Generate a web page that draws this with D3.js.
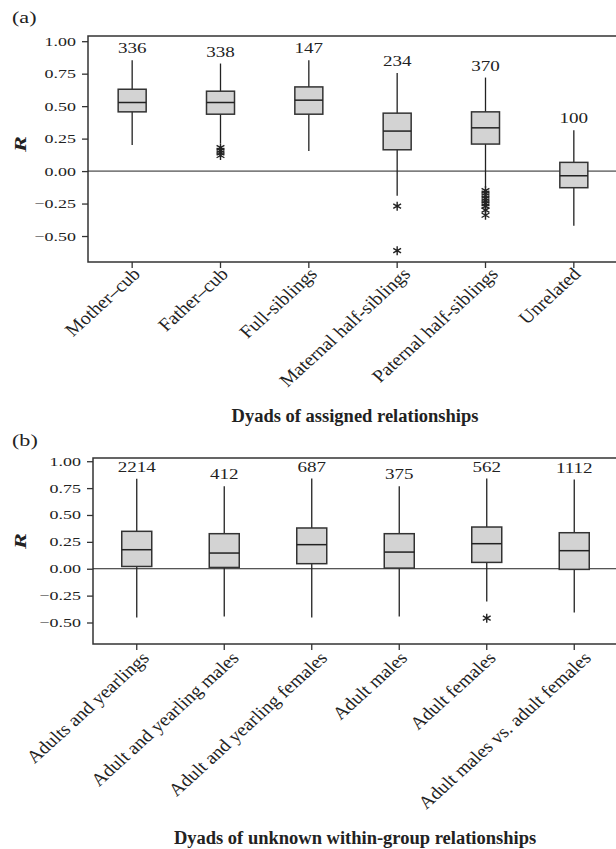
<!DOCTYPE html>
<html>
<head>
<meta charset="utf-8">
<script src="https://cdn.jsdelivr.net/npm/d3@7"></script>
<style>
  body { margin: 0; background: #fff; }
  svg text { font-family: "Liberation Serif", "DejaVu Serif", serif; fill: #222; }
</style>
</head>
<body>
<div id="chart"></div>
<script>
// panel (a) - assigned relationships
const catsA = ["Mother\u2013cub", "Father\u2013cub", "Full-siblings", "Maternal half-siblings", "Paternal half-siblings", "Unrelated"];
const countsA = [336, 338, 147, 234, 370, 100];
const lowA = [0.20, 0.215, 0.154, -0.19, -0.13, -0.42];
const q1A = [0.456, 0.438, 0.438, 0.164, 0.208, -0.128];
const medA = [0.528, 0.528, 0.546, 0.308, 0.333, -0.036];
const q3A = [0.63, 0.615, 0.648, 0.446, 0.456, 0.067];
const highA = [0.854, 0.828, 0.854, 0.756, 0.72, 0.315];
const outA = [[], [0.18, 0.16, 0.14, 0.12], [], [-0.27, -0.613],
  [-0.15, -0.17, -0.19, -0.21, -0.23, -0.25, -0.27, -0.30, -0.34], []];

// panel (b) - unknown within-group relationships
const catsB = ["Adults and yearlings", "Adult and yearling males", "Adult and yearling females", "Adult males", "Adult females", "Adult males vs. adult females"];
const countsB = [2214, 412, 687, 375, 562, 1112];
const lowB = [-0.454, -0.444, -0.454, -0.444, -0.305, -0.407];
const q1B = [0.021, 0.012, 0.047, 0.006, 0.059, -0.006];
const medB = [0.177, 0.146, 0.224, 0.155, 0.233, 0.168];
const q3B = [0.348, 0.326, 0.379, 0.326, 0.388, 0.335];
const highB = [0.836, 0.767, 0.839, 0.767, 0.839, 0.829];
const outB = [[], [], [], [], [-0.46], []];

const yTicks = [-0.5, -0.25, 0, 0.25, 0.5, 0.75, 1.0];

const svg = d3.select("#chart").append("svg")
    .attr("width", 616)
    .attr("height", 849);

const fmt = v => (v < 0 ? "\u2212" : "") + Math.abs(v).toFixed(2);

// text that is a bit wider than the font (like the original figure)
function wideText(g, x, y, str, size, sx, anchor) {
    return g.append("text")
        .attr("transform", `translate(${x},${y}) scale(${sx},1)`)
        .attr("text-anchor", anchor || "middle")
        .style("font-size", size + "px")
        .text(str);
}

function asterisk(g, x, y, r) {
    let d = "";
    [90, 30, 150].forEach(a => {
        const dx = r * Math.cos(a * Math.PI / 180), dy = r * Math.sin(a * Math.PI / 180);
        d += `M${x - dx},${y - dy}L${x + dx},${y + dy}`;
    });
    g.append("path").attr("d", d).attr("stroke", "#222").attr("stroke-width", 1.4);
}

function drawPanel(p) {
    const g = svg.append("g");
    const x = d3.scaleBand().domain(p.cats).range([p.left, p.right]);
    const y = d3.scaleLinear().domain([-0.70, p.ymax]).range([p.bottom, p.top]);
    const bw = p.boxW;

    // frame
    g.append("path")
        .attr("d", `M${p.right + 5},${p.top}H${p.left}V${p.bottom}H${p.right + 5}`)
        .attr("fill", "none").attr("stroke", "#333").attr("stroke-width", 1.5);

    // y axis (ticks from d3, labels drawn by hand so they can be widened)
    const yAxis = g.append("g").attr("transform", `translate(${p.left},0)`)
        .call(d3.axisLeft(y).tickValues(yTicks).tickFormat("").tickSize(6));
    yAxis.select(".domain").remove();
    yAxis.selectAll("line").attr("stroke", "#333").attr("stroke-width", 1.3);
    yTicks.forEach(t => wideText(g, p.left - 12, y(t) + 4.5, fmt(t), 13.5, 1.33, "end"));

    // x axis
    const xAxis = g.append("g").attr("transform", `translate(0,${p.bottom})`)
        .call(d3.axisBottom(x).tickSize(6).tickFormat(""));
    xAxis.select(".domain").remove();
    xAxis.selectAll("line").attr("stroke", "#333").attr("stroke-width", 1.3);

    // zero line
    g.append("line")
        .attr("x1", p.left).attr("x2", p.right + 5)
        .attr("y1", y(0)).attr("y2", y(0))
        .attr("stroke", "#222").attr("stroke-width", 1);

    p.cats.forEach((c, i) => {
        const cx = x(c) + x.bandwidth() / 2;
        g.append("line").attr("x1", cx).attr("x2", cx)
            .attr("y1", y(p.low[i])).attr("y2", y(p.high[i]))
            .attr("stroke", "#222").attr("stroke-width", 1.3);
        g.append("rect")
            .attr("x", cx - bw / 2).attr("width", bw)
            .attr("y", y(p.q3[i])).attr("height", y(p.q1[i]) - y(p.q3[i]))
            .attr("fill", "#d3d3d3").attr("stroke", "#333").attr("stroke-width", 1.5);
        g.append("line").attr("x1", cx - bw / 2).attr("x2", cx + bw / 2)
            .attr("y1", y(p.med[i])).attr("y2", y(p.med[i]))
            .attr("stroke", "#222").attr("stroke-width", 1.5);
        p.out[i].forEach(v => asterisk(g, cx, y(v), 4.5));
        wideText(g, cx, y(p.high[i]) - 7, p.counts[i], 15, 1.27);

        // rotated label: end at the tick, then widened from its start
        const ax = cx + 3, ay = p.bottom + p.labelDy;
        const t = g.append("text")
            .attr("text-anchor", "start")
            .style("font-size", "18px")
            .text(c);
        const len = t.node().getComputedTextLength();
        const sx = ax - len * Math.SQRT1_2, sy = ay + len * Math.SQRT1_2;
        t.attr("transform", `translate(${sx},${sy}) scale(1.1,1) rotate(-45)`);
    });

    wideText(g, 12, p.tagY, p.tag, 17, 1.3, "start");

    g.append("text")
        .attr("transform", `translate(26,${p.rY}) rotate(-90) scale(1.4,1)`)
        .attr("text-anchor", "middle")
        .style("font-size", "17px").style("font-weight", "bold").style("font-style", "italic")
        .text("R");

    g.append("text")
        .attr("x", 355).attr("y", p.titleY)
        .attr("text-anchor", "middle")
        .style("font-size", "18.5px").style("font-weight", "bold")
        .text(p.title);
}

drawPanel({
    cats: catsA, counts: countsA, low: lowA, q1: q1A, med: medA, q3: q3A, high: highA, out: outA,
    left: 88, right: 618, top: 36, bottom: 262, ymax: 1.04, boxW: 28,
    labelDy: 13, tag: "(a)", tagY: 23, rY: 144,
    title: "Dyads of assigned relationships", titleY: 422
});

drawPanel({
    cats: catsB, counts: countsB, low: lowB, q1: q1B, med: medB, q3: q3B, high: highB, out: outB,
    left: 93, right: 618, top: 458, bottom: 644, ymax: 1.03, boxW: 30,
    labelDy: 15, tag: "(b)", tagY: 446, rY: 541,
    title: "Dyads of unknown within-group relationships", titleY: 844
});
</script>
</body>
</html>
